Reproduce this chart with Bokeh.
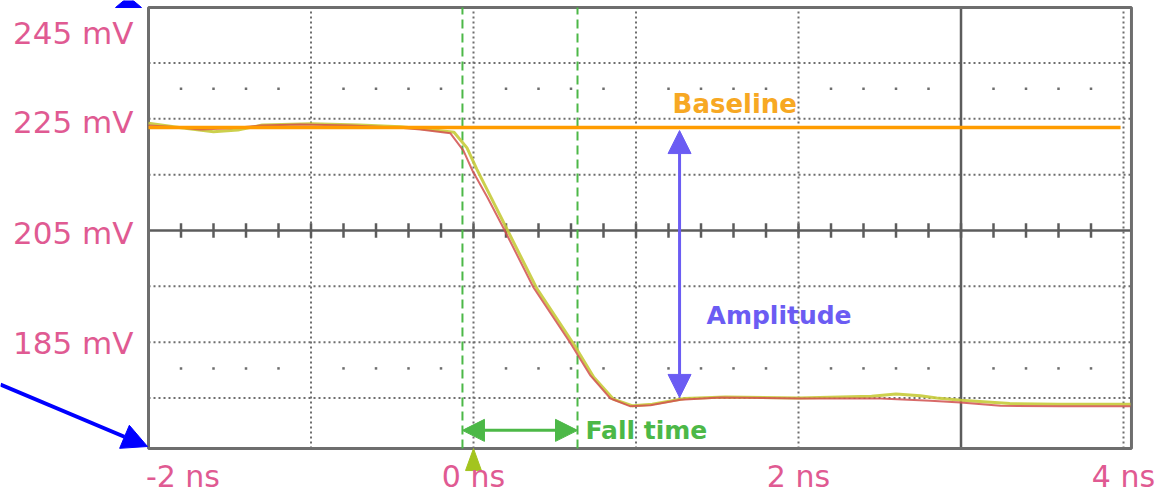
from bokeh.plotting import figure
from bokeh.models import Range1d, FixedTicker, Arrow, NormalHead
from bokeh.core.properties import value
from bokeh.embed import file_html
from bokeh.resources import INLINE

# ---------------- data ----------------
# axis tick positions / labels (as placed on the scope screenshot)
xtick_pos = [-1.788, 0.0, 2.0, 4.0]
xtick_labels = ["-2 ns", "0 ns", "2 ns", "4 ns"]
ytick_pos = [184.9, 204.6, 224.5, 240.3]
ytick_labels = ["185 mV", "205 mV", "225 mV", "245 mV"]

# scope screen extent [ns] / [mV]
screen_x = [-2.0, 4.049]
screen_y = [165.95, 244.94]

# scope graticule
grid_x_dotted = [-1.0, 0.0, 1.0, 2.0, 4.0]
grid_x_solid = [3.0]
grid_y_dotted = [175.0, 185.0, 195.0, 215.0, 225.0, 235.0]
grid_y_solid = [205.0]
center_tick_x = [-1.8, -1.6, -1.4, -1.2, -1.0, -0.8, -0.6, -0.4, -0.2, 0.0,
                 0.2, 0.4, 0.6, 0.8, 1.0, 1.2, 1.4, 1.6, 1.8, 2.0,
                 2.2, 2.4, 2.6, 2.8, 3.0, 3.2, 3.4, 3.6, 3.8]
dot_row_y = [230.4, 180.3]
dot_row_x = [-1.8, -1.6, -1.4, -1.2, -0.8, -0.6, -0.4, -0.2,
             0.2, 0.4, 0.6, 0.8, 1.2, 1.4, 1.6, 1.8,
             2.2, 2.4, 2.6, 2.8, 3.2, 3.4, 3.6, 3.8]

# waveform 1 (red trace): time [ns], voltage [mV]
t_red = [-2.0, -1.865, -1.68, -1.495, -1.31, -1.065, -0.757, -0.449, -0.326, -0.142,
         -0.062, -0.006, 0.086, 0.185, 0.369, 0.597, 0.720, 0.843, 0.966, 1.089,
         1.274, 1.52, 2.012, 2.505, 2.812, 2.997, 3.243, 3.612, 4.043]
v_red = [223.8, 223.6, 223.1, 223.3, 223.8, 224.0, 223.8, 223.4, 223.1, 222.4,
         219.3, 215.7, 210.9, 205.4, 194.8, 184.8, 179.0, 174.9, 173.5, 173.7,
         174.7, 175.1, 174.9, 174.9, 174.5, 174.2, 173.6, 173.5, 173.5]

# waveform 2 (yellow-green trace)
t_yel = [-2.0, -1.8, -1.6, -1.45, -1.3, -1.0, -0.7, -0.45, -0.3, -0.12,
         -0.04, 0.02, 0.11, 0.21, 0.39, 0.62, 0.74, 0.86, 0.98, 1.10,
         1.30, 1.55, 2.0, 2.45, 2.6, 2.75, 2.85, 3.0, 3.3, 3.6, 4.043]
v_yel = [224.2, 223.4, 222.7, 223.0, 223.9, 224.1, 223.9, 223.6, 223.2, 222.6,
         219.8, 216.0, 210.8, 205.0, 194.6, 184.5, 178.7, 174.8, 173.6, 173.9,
         174.9, 175.2, 175.0, 175.3, 175.7, 175.4, 175.0, 174.6, 174.0, 173.9, 173.9]

# annotations
baseline_mv = 223.45
baseline_x = [-2.0, 3.982]
amp_x = 1.268
amp_y = [222.9, 175.1]
fall_x = [-0.068, 0.640]
fall_arrow_y = 169.2
trigger_x = 0.0
trigger_y = [162.0, 165.95]
pointer_start = (-2.911, 177.4)
pointer_end = (-2.006, 166.31)
top_pointer_xs = [-2.203, -2.043, -2.123]
top_pointer_ys = [244.94, 244.94, 246.9]

PINK = "#e05a92"
GRID = "#6e6e6e"
SOLID = "#5c5c5c"
GREEN = "#4cb847"
PURPLE = "#6b5cf3"
ORANGE = "#ff9c00"
ORANGE_TXT = "#f7a823"
BLUE = "#0000ff"

p = figure(width=1157, height=496,
           x_range=Range1d(-2.9108, 4.2092), y_range=Range1d(157.356, 246.197),
           output_backend="svg", toolbar_location=None,
           min_border_left=0, min_border_right=0, min_border_top=0, min_border_bottom=0,
           background_fill_color="white", border_fill_color="white")
p.outline_line_color = None
p.grid.visible = False

for ax in (p.xaxis[0], p.yaxis[0]):
    ax.axis_line_color = None
    ax.major_tick_line_color = None
    ax.minor_tick_line_color = None
    ax.major_tick_out = 0
    ax.major_tick_in = 0
    ax.minor_tick_out = 0
    ax.major_label_text_font = "DejaVu Sans"
    ax.major_label_text_color = PINK

p.xaxis.fixed_location = screen_y[0]
p.xaxis.ticker = FixedTicker(ticks=xtick_pos)
p.xaxis.major_label_overrides = dict(zip(xtick_pos, xtick_labels))
p.xaxis.major_label_text_font_size = "30px"
p.xaxis.major_label_standoff = 10

p.yaxis.fixed_location = screen_x[0]
p.yaxis.ticker = FixedTicker(ticks=ytick_pos)
p.yaxis.major_label_overrides = dict(zip(ytick_pos, ytick_labels))
p.yaxis.major_label_text_font_size = "31px"
p.yaxis.major_label_standoff = 15

sx0, sx1 = screen_x
sy0, sy1 = screen_y

# dotted graticule
p.segment(x0=grid_x_dotted, x1=grid_x_dotted, y0=[sy0] * len(grid_x_dotted), y1=[sy1] * len(grid_x_dotted),
          line_color=GRID, line_width=2, line_dash="2 3")
p.segment(x0=[sx0] * len(grid_y_dotted), x1=[sx1] * len(grid_y_dotted), y0=grid_y_dotted, y1=grid_y_dotted,
          line_color=GRID, line_width=2, line_dash="2 3")
p.scatter(x=dot_row_x * len(dot_row_y),
          y=[yy for yy in dot_row_y for _ in dot_row_x],
          marker="square", size=2.5, color=GRID, line_color=None)
# solid axes of graticule
p.segment(x0=grid_x_solid, x1=grid_x_solid, y0=[sy0], y1=[sy1], line_color=SOLID, line_width=2.5)
p.segment(x0=[sx0], x1=[sx1], y0=grid_y_solid, y1=grid_y_solid, line_color=SOLID, line_width=2.5)
p.segment(x0=center_tick_x, x1=center_tick_x,
          y0=[grid_y_solid[0] - 1.3] * len(center_tick_x), y1=[grid_y_solid[0] + 1.3] * len(center_tick_x),
          line_color=SOLID, line_width=2.5)

# screen border
p.quad(left=[sx0], right=[sx1], bottom=[sy0], top=[sy1], fill_color=None,
       line_color="#6e6e6e", line_width=3)

# fall-time markers
p.segment(x0=fall_x, x1=fall_x, y0=[sy0] * 2, y1=[sy1] * 2,
          line_color=GREEN, line_width=2, line_dash="9 5")

# waveforms
p.line(t_yel, v_yel, line_color="#c6cb3a", line_width=3, line_alpha=0.9)
p.line(t_red, v_red, line_color="#d1504f", line_width=2, line_alpha=0.85)

# baseline
p.segment(x0=[baseline_x[0]], x1=[baseline_x[1]], y0=[baseline_mv], y1=[baseline_mv],
          line_color=ORANGE, line_width=3.5)

# amplitude arrow
p.add_layout(Arrow(start=NormalHead(size=23, fill_color=PURPLE, line_color=PURPLE),
                   end=NormalHead(size=23, fill_color=PURPLE, line_color=PURPLE),
                   x_start=amp_x, y_start=amp_y[0], x_end=amp_x, y_end=amp_y[1],
                   line_color=PURPLE, line_width=3))
# fall time arrow
p.add_layout(Arrow(start=NormalHead(size=22, fill_color=GREEN, line_color=GREEN),
                   end=NormalHead(size=22, fill_color=GREEN, line_color=GREEN),
                   x_start=fall_x[0], y_start=fall_arrow_y, x_end=fall_x[1], y_end=fall_arrow_y,
                   line_color=GREEN, line_width=3))

# labels
p.text(x=[1.225], y=[227.65], text=["Baseline"], text_color=ORANGE_TXT,
       text_font=value("DejaVu Sans"), text_font_style="bold", text_font_size="26px",
       text_baseline="alphabetic", text_align="left")
p.text(x=[1.434], y=[189.85], text=["Amplitude"], text_color=PURPLE,
       text_font=value("DejaVu Sans"), text_font_style="bold", text_font_size="25px",
       text_baseline="alphabetic", text_align="left")
p.text(x=[0.689], y=[169.2], text=["Fall time"], text_color=GREEN,
       text_font=value("DejaVu Sans"), text_font_style="bold", text_font_size="25px",
       text_baseline="alphabetic", text_align="left")

# trigger marker below the screen
p.patch(x=[trigger_x - 0.049, trigger_x + 0.049, trigger_x],
        y=[trigger_y[0], trigger_y[0], trigger_y[1]],
        fill_color="#a3c41e", line_color="#a3c41e")

# blue pointer arrows in the left margin
p.add_layout(Arrow(end=NormalHead(size=25, fill_color=BLUE, line_color=BLUE),
                   x_start=pointer_start[0], y_start=pointer_start[1],
                   x_end=pointer_end[0], y_end=pointer_end[1],
                   line_color=BLUE, line_width=4))
p.patch(x=top_pointer_xs, y=top_pointer_ys, fill_color=BLUE, line_color=BLUE)

open("out.html", "w").write(file_html(p, INLINE))
